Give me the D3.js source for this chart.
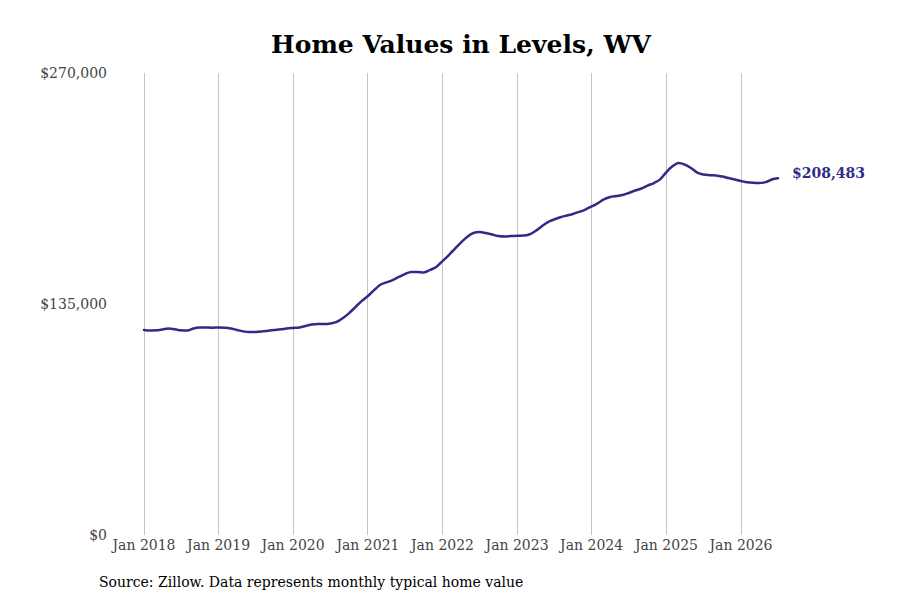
<!DOCTYPE html>
<html>
<head>
<meta charset="utf-8">
<script src="https://cdn.jsdelivr.net/npm/d3@7"></script>
<style>
  body { margin: 0; background: #fff; }
  svg { display: block; }
</style>
</head>
<body>
<div id="container"></div>
<script>
const width = 900;
const height = 600;

// Monthly typical home value, Jan 2018 .. Jul 2026
const startMonth = "2018-01";
const values = [
  // 2018
  119800, 119500, 119600, 120100, 120700, 120200, 119600, 119500, 120700, 121200, 121300, 121100,
  // 2019
  121300, 121100, 120700, 119800, 119000, 118600, 118700, 119000, 119400, 119800, 120200, 120700,
  // 2020
  121000, 121300, 122100, 123000, 123300, 123300, 123600, 124500, 126800, 129700, 133200, 136700,
  // 2021
  139700, 143200, 146100, 147600, 149000, 150800, 152500, 153700, 153700, 153400, 154900, 156600,
  // 2022
  160100, 163600, 167100, 170900, 174200, 176500, 177100, 176500, 175600, 174700, 174400, 174700,
  // 2023
  174900, 175000, 175600, 177700, 180300, 182900, 184400, 185700, 186700, 187600, 188800, 190200,
  // 2024
  192000, 194000, 196100, 197500, 198100, 198700, 199900, 201300, 202500, 204200, 205700, 207800,
  // 2025
  212100, 215600, 217400, 216500, 214500, 211800, 210700, 210300, 210100, 209500, 208600, 207800,
  // 2026
  206900, 206100, 205800, 205700, 206200, 207800, 208483
];

const yTicks = [0, 135000, 270000];
const xTickYears = [2018, 2019, 2020, 2021, 2022, 2023, 2024, 2025, 2026];

const title = "Home Values in Levels, WV";
const source = "Source: Zillow. Data represents monthly typical home value";

const parseMonth = d3.timeParse("%Y-%m");
const t0 = parseMonth(startMonth);
const data = values.map((v, i) => ({ date: d3.timeMonth.offset(t0, i), value: v }));

const serif = "'DejaVu Serif', serif";
const lineColor = "#2f2b87";

const x = d3.scaleTime()
  .domain([new Date(2018, 0, 1), new Date(2026, 0, 1)])
  .range([144, 741]);

const y = d3.scaleLinear()
  .domain([0, 270000])
  .range([535, 73]);

const svg = d3.select("#container")
  .append("svg")
  .attr("width", width)
  .attr("height", height);

// Title
svg.append("text")
  .attr("x", 461)
  .attr("y", 53)
  .attr("text-anchor", "middle")
  .style("font-family", serif)
  .style("font-weight", "bold")
  .style("font-size", "25px")
  .attr("fill", "#000")
  .text(title);

// Vertical gridlines at each January
svg.append("g")
  .selectAll("line")
  .data(xTickYears)
  .join("line")
  .attr("x1", d => x(new Date(d, 0, 1)))
  .attr("x2", d => x(new Date(d, 0, 1)))
  .attr("y1", y(270000))
  .attr("y2", y(0))
  .attr("stroke", "#c4c4c4")
  .attr("stroke-width", 1)
  .attr("shape-rendering", "crispEdges");

// X tick labels
svg.append("g")
  .selectAll("text")
  .data(xTickYears)
  .join("text")
  .attr("x", d => x(new Date(d, 0, 1)))
  .attr("y", 550)
  .attr("text-anchor", "middle")
  .style("font-family", serif)
  .style("font-size", "14px")
  .attr("fill", "#444")
  .text(d => d3.timeFormat("%b %Y")(new Date(d, 0, 1)));

// Y tick labels
const fmt = d => "$" + d3.format(",")(d);
svg.append("g")
  .selectAll("text")
  .data(yTicks)
  .join("text")
  .attr("x", 107)
  .attr("y", d => y(d))
  .attr("dy", "0.35em")
  .attr("text-anchor", "end")
  .style("font-family", serif)
  .style("font-size", "14px")
  .attr("fill", "#444")
  .text(fmt);

// Line
const line = d3.line()
  .x(d => x(d.date))
  .y(d => y(d.value))
  .curve(d3.curveMonotoneX);

svg.append("path")
  .datum(data)
  .attr("fill", "none")
  .attr("stroke", lineColor)
  .attr("stroke-width", 2.5)
  .attr("stroke-linejoin", "round")
  .attr("stroke-linecap", "round")
  .attr("d", line);

// End label
const last = data[data.length - 1];
svg.append("text")
  .attr("x", x(last.date) + 14)
  .attr("y", y(last.value) - 5)
  .attr("dy", "0.35em")
  .style("font-family", serif)
  .style("font-weight", "bold")
  .style("font-size", "14px")
  .attr("fill", lineColor)
  .text(fmt(last.value));

// Source note
svg.append("text")
  .attr("x", 99)
  .attr("y", 587)
  .style("font-family", serif)
  .style("font-size", "14px")
  .attr("fill", "#000")
  .text(source);
</script>
</body>
</html>
